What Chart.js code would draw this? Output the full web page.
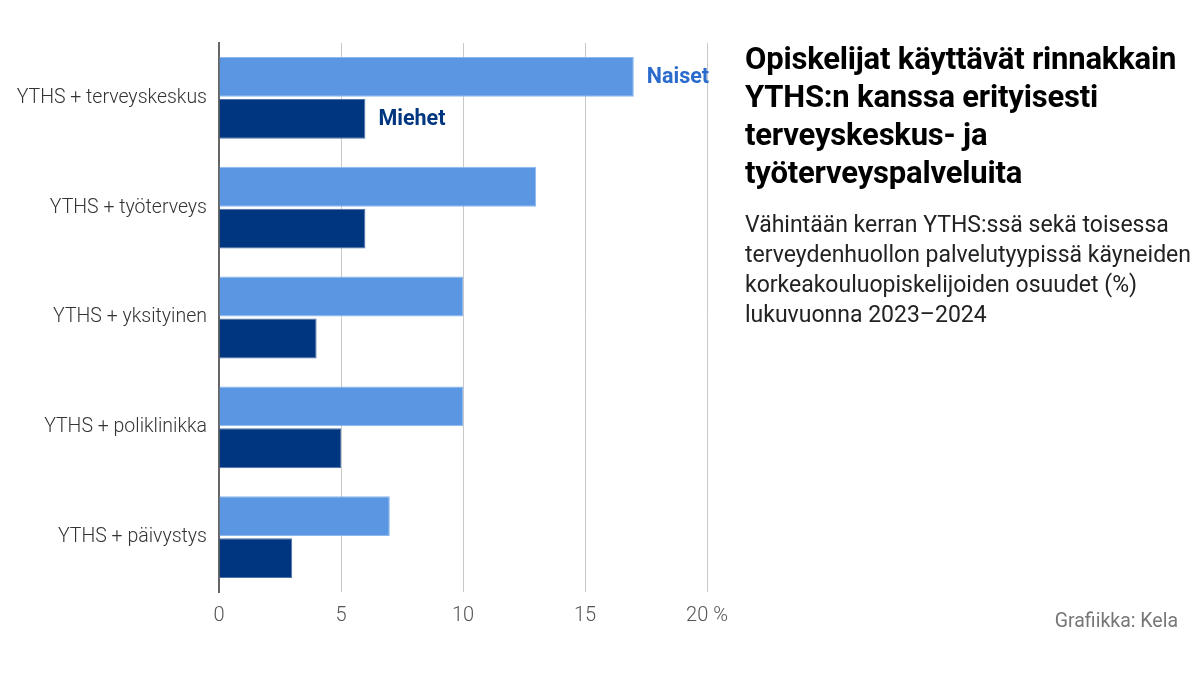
<!DOCTYPE html>
<html>
<head>
<meta charset="utf-8">
<script src="https://cdn.jsdelivr.net/npm/chart.js@4"></script>
<style>
  html, body { margin: 0; padding: 0; background: #fff; }
  #wrap { position: relative; width: 1200px; height: 675px; overflow: hidden; }
  #chart { position: absolute; left: 0; top: 0; }
  #title {
    position: absolute; left: 745px; top: 40px; width: 450px;
    font-family: "Roboto", sans-serif; font-weight: bold;
    font-size: 31px; line-height: 38px; color: #000; letter-spacing: -0.2px;
  }
  #subtitle {
    position: absolute; left: 745px; top: 210px; width: 450px;
    font-family: "Roboto", sans-serif;
    font-size: 23px; line-height: 30px; color: #222;
  }
  #credit {
    position: absolute; right: 22px; top: 609px;
    font-family: "Roboto", sans-serif; font-size: 19.5px; color: #777;
  }
</style>
</head>
<body>
<div id="wrap">
  <canvas id="chart" width="1200" height="675"></canvas>
  <div id="title">Opiskelijat käyttävät rinnakkain YTHS:n kanssa erityisesti terveyskeskus- ja työterveyspalveluita</div>
  <div id="subtitle">Vähintään kerran YTHS:ssä sekä toisessa terveydenhuollon palvelutyypissä käyneiden korkeakouluopiskelijoiden osuudet (%) lukuvuonna 2023–2024</div>
  <div id="credit">Grafiikka: Kela</div>
</div>
<script>
// Data
const categories = ['YTHS + terveyskeskus', 'YTHS + työterveys', 'YTHS + yksityinen', 'YTHS + poliklinikka', 'YTHS + päivystys'];
const naiset = [17, 13, 10, 10, 7];
const miehet = [6, 6, 4, 5, 3];
const xTicks = [0, 5, 10, 15, 20];

const NAISET_COLOR = '#5b96e3';
const MIEHET_COLOR = '#00367f';

// Series names next to the first pair of bars
const seriesLabels = {
    id: 'seriesLabels',
    afterDatasetsDraw(chart) {
        const ctx = chart.ctx;
        const colors = ['#2b6bcc', '#00367f'];
        ctx.save();
        ctx.font = 'bold 21.5px Roboto, sans-serif';
        ctx.textBaseline = 'middle';
        ctx.textAlign = 'left';
        chart.data.datasets.forEach((ds, i) => {
            const bar = chart.getDatasetMeta(i).data[0];
            ctx.fillStyle = colors[i];
            ctx.fillText(ds.label, bar.x + 13, bar.y + 1);
        });
        ctx.restore();
    }
};

const ctx = document.getElementById('chart').getContext('2d');
new Chart(ctx, {
    type: 'bar',
    data: {
        labels: categories,
        datasets: [
            {
                label: 'Naiset',
                data: naiset,
                backgroundColor: NAISET_COLOR,
                borderColor: '#8db8ee',
                borderWidth: 1,
                borderSkipped: 'start'
            },
            {
                label: 'Miehet',
                data: miehet,
                backgroundColor: MIEHET_COLOR,
                borderColor: '#4d72a8',
                borderWidth: 1,
                borderSkipped: 'start'
            }
        ]
    },
    options: {
        indexAxis: 'y',
        responsive: false,
        animation: false,
        categoryPercentage: 0.764,
        barPercentage: 0.95,
        layout: { padding: { top: 43, right: 493, bottom: 28, left: 0 } },
        plugins: {
            legend: { display: false },
            tooltip: { enabled: false }
        },
        scales: {
            x: {
                min: 0,
                max: 20,
                afterFit(scale) { scale.height = 55; },
                afterBuildTicks(scale) { scale.ticks = xTicks.map(v => ({ value: v })); },
                ticks: {
                    padding: 12,
                    color: '#555',
                    font: { family: 'Roboto', size: 20, weight: '300' },
                    callback: v => v === 20 ? '20 %' : String(v)
                },
                grid: {
                    drawTicks: false,
                    color: c => c.tick && c.tick.value === 0 ? 'rgba(0,0,0,0)' : '#c8c8c8',
                    lineWidth: 1
                },
                border: { display: false }
            },
            y: {
                afterFit(scale) { scale.width = 219; },
                ticks: {
                    padding: 12,
                    color: '#333',
                    font: { family: 'Roboto', size: 19.5, weight: '300' }
                },
                grid: { display: false, drawTicks: false },
                border: { display: true, color: '#666', width: 2 }
            }
        }
    },
    plugins: [seriesLabels]
});
</script>
</body>
</html>
